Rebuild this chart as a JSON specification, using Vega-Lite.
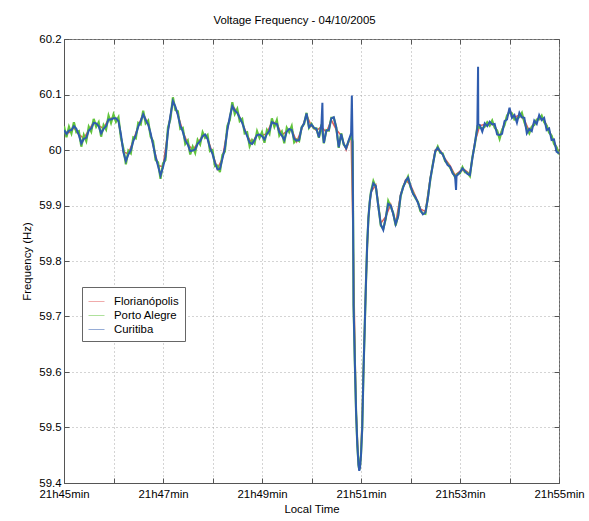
{
"$schema": "https://vega.github.io/schema/vega-lite/v6.json",
"width": 495, "height": 444,
"autosize": {"type": "none"},
"padding": {"left": 64, "top": 39, "right": 30, "bottom": 38},
"background": "white",
"config": {"font": "Liberation Sans", "view": {"stroke": "#666", "strokeWidth": 1}},
"title": {"text": "Voltage Frequency - 04/10/2005", "fontSize": 11.4, "fontWeight": "normal", "font": "Liberation Sans", "color": "#000", "offset": 7, "dx": -17},
"datasets": {
"flo": [{"t":0,"hz":60.033},{"t":0.1,"hz":60.031},{"t":0.2,"hz":60.04},{"t":0.3,"hz":60.028},{"t":0.4,"hz":60.021},{"t":0.5,"hz":60.036},{"t":0.6,"hz":60.05},{"t":0.7,"hz":60.044},{"t":0.8,"hz":60.039},{"t":0.9,"hz":60.056},{"t":1.0,"hz":60.058},{"t":1.1,"hz":60.053},{"t":1.2,"hz":59.997},{"t":1.3,"hz":59.993},{"t":1.4,"hz":60.017},{"t":1.5,"hz":60.043},{"t":1.6,"hz":60.065},{"t":1.7,"hz":60.047},{"t":1.8,"hz":60.01},{"t":1.9,"hz":59.972},{"t":2.0,"hz":59.97},{"t":2.1,"hz":60.034},{"t":2.2,"hz":60.089},{"t":2.3,"hz":60.064},{"t":2.4,"hz":60.034},{"t":2.5,"hz":60.011},{"t":2.6,"hz":60.0},{"t":2.7,"hz":60.012},{"t":2.8,"hz":60.026},{"t":2.9,"hz":60.021},{"t":3.0,"hz":59.994},{"t":3.1,"hz":59.966},{"t":3.2,"hz":59.985},{"t":3.3,"hz":60.037},{"t":3.4,"hz":60.08},{"t":3.5,"hz":60.068},{"t":3.6,"hz":60.05},{"t":3.7,"hz":60.026},{"t":3.8,"hz":60.012},{"t":3.9,"hz":60.028},{"t":4.0,"hz":60.026},{"t":4.1,"hz":60.03},{"t":4.2,"hz":60.051},{"t":4.3,"hz":60.048},{"t":4.4,"hz":60.027},{"t":4.5,"hz":60.034},{"t":4.6,"hz":60.037},{"t":4.7,"hz":60.015},{"t":4.8,"hz":60.037},{"t":4.9,"hz":60.063},{"t":5.0,"hz":60.043},{"t":5.1,"hz":60.035},{"t":5.2,"hz":60.042},{"t":5.3,"hz":60.032},{"t":5.4,"hz":60.054},{"t":5.5,"hz":60.037},{"t":5.6,"hz":60.026},{"t":5.7,"hz":60.0},{"t":5.8,"hz":60.027},{"t":5.845,"hz":59.816},{"t":5.9,"hz":59.532},{"t":5.95,"hz":59.434},{"t":5.965,"hz":59.424},{"t":6.0,"hz":59.452},{"t":6.05,"hz":59.602},{"t":6.1,"hz":59.762},{"t":6.15,"hz":59.879},{"t":6.2,"hz":59.924},{"t":6.3,"hz":59.937},{"t":6.4,"hz":59.868},{"t":6.5,"hz":59.88},{"t":6.6,"hz":59.902},{"t":6.7,"hz":59.868},{"t":6.8,"hz":59.92},{"t":6.9,"hz":59.946},{"t":7.0,"hz":59.937},{"t":7.1,"hz":59.917},{"t":7.2,"hz":59.894},{"t":7.3,"hz":59.889},{"t":7.4,"hz":59.95},{"t":7.5,"hz":60.0},{"t":7.6,"hz":59.999},{"t":7.7,"hz":59.984},{"t":7.8,"hz":59.972},{"t":7.9,"hz":59.955},{"t":8.0,"hz":59.962},{"t":8.1,"hz":59.964},{"t":8.2,"hz":59.957},{"t":8.3,"hz":60.014},{"t":8.4,"hz":60.044},{"t":8.5,"hz":60.046},{"t":8.6,"hz":60.048},{"t":8.7,"hz":60.044},{"t":8.8,"hz":60.024},{"t":8.9,"hz":60.049},{"t":9.0,"hz":60.072},{"t":9.1,"hz":60.059},{"t":9.2,"hz":60.063},{"t":9.3,"hz":60.054},{"t":9.4,"hz":60.034},{"t":9.5,"hz":60.049},{"t":9.6,"hz":60.059},{"t":9.7,"hz":60.054},{"t":9.8,"hz":60.035},{"t":9.9,"hz":60.015},{"t":10.0,"hz":59.996}],
"poa": [{"t":0,"hz":60.043},{"t":0.05,"hz":60.023},{"t":0.1,"hz":60.042},{"t":0.15,"hz":60.03},{"t":0.2,"hz":60.05},{"t":0.25,"hz":60.032},{"t":0.3,"hz":60.034},{"t":0.35,"hz":60.006},{"t":0.4,"hz":60.027},{"t":0.45,"hz":60.016},{"t":0.5,"hz":60.042},{"t":0.55,"hz":60.033},{"t":0.6,"hz":60.056},{"t":0.65,"hz":60.042},{"t":0.7,"hz":60.05},{"t":0.75,"hz":60.024},{"t":0.8,"hz":60.045},{"t":0.85,"hz":60.037},{"t":0.9,"hz":60.062},{"t":0.95,"hz":60.049},{"t":1.0,"hz":60.064},{"t":1.05,"hz":60.051},{"t":1.1,"hz":60.059},{"t":1.15,"hz":60.022},{"t":1.2,"hz":60.003},{"t":1.25,"hz":59.974},{"t":1.3,"hz":59.999},{"t":1.35,"hz":59.994},{"t":1.4,"hz":60.023},{"t":1.45,"hz":60.021},{"t":1.5,"hz":60.049},{"t":1.55,"hz":60.046},{"t":1.6,"hz":60.071},{"t":1.65,"hz":60.048},{"t":1.7,"hz":60.053},{"t":1.75,"hz":60.024},{"t":1.8,"hz":60.016},{"t":1.85,"hz":59.982},{"t":1.9,"hz":59.978},{"t":1.95,"hz":59.948},{"t":2.0,"hz":59.976},{"t":2.05,"hz":59.982},{"t":2.1,"hz":60.04},{"t":2.15,"hz":60.056},{"t":2.2,"hz":60.095},{"t":2.25,"hz":60.072},{"t":2.3,"hz":60.07},{"t":2.35,"hz":60.038},{"t":2.4,"hz":60.04},{"t":2.45,"hz":60.011},{"t":2.5,"hz":60.017},{"t":2.55,"hz":59.992},{"t":2.6,"hz":60.006},{"t":2.65,"hz":59.995},{"t":2.7,"hz":60.018},{"t":2.75,"hz":60.01},{"t":2.8,"hz":60.032},{"t":2.85,"hz":60.022},{"t":2.9,"hz":60.027},{"t":2.95,"hz":59.998},{"t":3.0,"hz":60.0},{"t":3.05,"hz":59.971},{"t":3.1,"hz":59.972},{"t":3.15,"hz":59.96},{"t":3.2,"hz":59.991},{"t":3.25,"hz":59.997},{"t":3.3,"hz":60.043},{"t":3.35,"hz":60.054},{"t":3.4,"hz":60.086},{"t":3.45,"hz":60.065},{"t":3.5,"hz":60.074},{"t":3.55,"hz":60.052},{"t":3.6,"hz":60.056},{"t":3.65,"hz":60.03},{"t":3.7,"hz":60.032},{"t":3.75,"hz":60.007},{"t":3.8,"hz":60.018},{"t":3.85,"hz":60.012},{"t":3.9,"hz":60.034},{"t":3.95,"hz":60.022},{"t":4.0,"hz":60.032},{"t":4.05,"hz":60.013},{"t":4.1,"hz":60.036},{"t":4.15,"hz":60.029},{"t":4.2,"hz":60.057},{"t":4.25,"hz":60.042},{"t":4.3,"hz":60.054},{"t":4.35,"hz":60.026},{"t":4.4,"hz":60.033},{"t":4.45,"hz":60.012},{"t":4.5,"hz":60.04},{"t":4.55,"hz":60.032},{"t":4.6,"hz":60.043},{"t":4.65,"hz":60.014},{"t":4.7,"hz":60.019},{"t":4.75,"hz":60.016},{"t":4.8,"hz":60.041},{"t":4.85,"hz":60.047},{"t":4.9,"hz":60.067},{"t":4.95,"hz":60.04},{"t":5.0,"hz":60.047},{"t":5.05,"hz":60.039},{"t":5.1,"hz":60.039},{"t":5.15,"hz":60.022},{"t":5.2,"hz":60.046},{"t":5.25,"hz":60.012},{"t":5.3,"hz":60.036},{"t":5.35,"hz":60.035},{"t":5.4,"hz":60.058},{"t":5.45,"hz":60.058},{"t":5.5,"hz":60.041},{"t":5.55,"hz":60.004},{"t":5.6,"hz":60.03},{"t":5.65,"hz":60.01},{"t":5.7,"hz":60.004},{"t":5.75,"hz":60.016},{"t":5.8,"hz":60.025},{"t":5.83,"hz":60.015},{"t":5.845,"hz":59.814},{"t":5.85,"hz":59.72},{"t":5.875,"hz":59.62},{"t":5.9,"hz":59.53},{"t":5.925,"hz":59.47},{"t":5.95,"hz":59.432},{"t":5.965,"hz":59.424},{"t":5.98,"hz":59.43},{"t":6.0,"hz":59.452},{"t":6.025,"hz":59.5},{"t":6.05,"hz":59.6},{"t":6.075,"hz":59.68},{"t":6.1,"hz":59.76},{"t":6.125,"hz":59.83},{"t":6.15,"hz":59.877},{"t":6.175,"hz":59.905},{"t":6.2,"hz":59.924},{"t":6.25,"hz":59.944},{"t":6.3,"hz":59.933},{"t":6.35,"hz":59.9},{"t":6.4,"hz":59.864},{"t":6.45,"hz":59.858},{"t":6.5,"hz":59.876},{"t":6.55,"hz":59.908},{"t":6.6,"hz":59.898},{"t":6.65,"hz":59.887},{"t":6.7,"hz":59.864},{"t":6.75,"hz":59.882},{"t":6.8,"hz":59.916},{"t":6.85,"hz":59.934},{"t":6.9,"hz":59.942},{"t":6.95,"hz":59.952},{"t":7.0,"hz":59.933},{"t":7.05,"hz":59.923},{"t":7.1,"hz":59.913},{"t":7.15,"hz":59.907},{"t":7.2,"hz":59.89},{"t":7.25,"hz":59.886},{"t":7.3,"hz":59.885},{"t":7.35,"hz":59.914},{"t":7.4,"hz":59.946},{"t":7.45,"hz":59.974},{"t":7.5,"hz":59.996},{"t":7.55,"hz":60.006},{"t":7.6,"hz":59.995},{"t":7.65,"hz":59.994},{"t":7.7,"hz":59.98},{"t":7.75,"hz":59.975},{"t":7.8,"hz":59.968},{"t":7.85,"hz":59.96},{"t":7.9,"hz":59.951},{"t":7.95,"hz":59.957},{"t":8.0,"hz":59.958},{"t":8.05,"hz":59.969},{"t":8.1,"hz":59.96},{"t":8.15,"hz":59.959},{"t":8.2,"hz":59.953},{"t":8.25,"hz":59.987},{"t":8.3,"hz":60.01},{"t":8.35,"hz":60.042},{"t":8.4,"hz":60.04},{"t":8.45,"hz":60.039},{"t":8.5,"hz":60.042},{"t":8.55,"hz":60.05},{"t":8.6,"hz":60.044},{"t":8.65,"hz":60.053},{"t":8.7,"hz":60.04},{"t":8.75,"hz":60.035},{"t":8.8,"hz":60.02},{"t":8.85,"hz":60.036},{"t":8.9,"hz":60.045},{"t":8.95,"hz":60.062},{"t":9.0,"hz":60.068},{"t":9.05,"hz":60.066},{"t":9.1,"hz":60.055},{"t":9.15,"hz":60.057},{"t":9.2,"hz":60.059},{"t":9.25,"hz":60.067},{"t":9.3,"hz":60.05},{"t":9.35,"hz":60.038},{"t":9.4,"hz":60.03},{"t":9.45,"hz":60.042},{"t":9.5,"hz":60.045},{"t":9.55,"hz":60.055},{"t":9.6,"hz":60.055},{"t":9.65,"hz":60.062},{"t":9.7,"hz":60.05},{"t":9.75,"hz":60.044},{"t":9.8,"hz":60.031},{"t":9.85,"hz":60.026},{"t":9.9,"hz":60.011},{"t":9.95,"hz":60.005},{"t":10.0,"hz":59.992}],
"cur": [{"t":0,"hz":60.036},{"t":0.05,"hz":60.029},{"t":0.1,"hz":60.035},{"t":0.15,"hz":60.036},{"t":0.2,"hz":60.043},{"t":0.25,"hz":60.038},{"t":0.3,"hz":60.027},{"t":0.35,"hz":60.012},{"t":0.4,"hz":60.02},{"t":0.45,"hz":60.022},{"t":0.5,"hz":60.035},{"t":0.55,"hz":60.039},{"t":0.6,"hz":60.049},{"t":0.65,"hz":60.048},{"t":0.7,"hz":60.043},{"t":0.75,"hz":60.03},{"t":0.8,"hz":60.038},{"t":0.85,"hz":60.043},{"t":0.9,"hz":60.055},{"t":0.95,"hz":60.055},{"t":1.0,"hz":60.057},{"t":1.05,"hz":60.057},{"t":1.1,"hz":60.052},{"t":1.15,"hz":60.028},{"t":1.2,"hz":59.996},{"t":1.25,"hz":59.98},{"t":1.3,"hz":59.992},{"t":1.35,"hz":60.0},{"t":1.4,"hz":60.016},{"t":1.45,"hz":60.027},{"t":1.5,"hz":60.042},{"t":1.55,"hz":60.052},{"t":1.6,"hz":60.064},{"t":1.65,"hz":60.054},{"t":1.7,"hz":60.046},{"t":1.75,"hz":60.03},{"t":1.8,"hz":60.009},{"t":1.85,"hz":59.988},{"t":1.9,"hz":59.971},{"t":1.95,"hz":59.954},{"t":2.0,"hz":59.969},{"t":2.05,"hz":59.988},{"t":2.1,"hz":60.033},{"t":2.15,"hz":60.062},{"t":2.2,"hz":60.088},{"t":2.25,"hz":60.078},{"t":2.3,"hz":60.063},{"t":2.35,"hz":60.044},{"t":2.4,"hz":60.033},{"t":2.45,"hz":60.017},{"t":2.5,"hz":60.01},{"t":2.55,"hz":59.998},{"t":2.6,"hz":59.999},{"t":2.65,"hz":60.001},{"t":2.7,"hz":60.011},{"t":2.75,"hz":60.016},{"t":2.8,"hz":60.025},{"t":2.85,"hz":60.028},{"t":2.9,"hz":60.02},{"t":2.95,"hz":60.004},{"t":3.0,"hz":59.993},{"t":3.05,"hz":59.977},{"t":3.1,"hz":59.965},{"t":3.15,"hz":59.966},{"t":3.2,"hz":59.984},{"t":3.25,"hz":60.003},{"t":3.3,"hz":60.036},{"t":3.35,"hz":60.06},{"t":3.4,"hz":60.079},{"t":3.45,"hz":60.071},{"t":3.5,"hz":60.067},{"t":3.55,"hz":60.058},{"t":3.6,"hz":60.049},{"t":3.65,"hz":60.036},{"t":3.7,"hz":60.025},{"t":3.75,"hz":60.013},{"t":3.8,"hz":60.011},{"t":3.85,"hz":60.018},{"t":3.9,"hz":60.027},{"t":3.95,"hz":60.028},{"t":4.0,"hz":60.025},{"t":4.05,"hz":60.019},{"t":4.1,"hz":60.029},{"t":4.15,"hz":60.035},{"t":4.2,"hz":60.05},{"t":4.25,"hz":60.048},{"t":4.3,"hz":60.047},{"t":4.35,"hz":60.032},{"t":4.4,"hz":60.026},{"t":4.45,"hz":60.018},{"t":4.5,"hz":60.033},{"t":4.55,"hz":60.038},{"t":4.6,"hz":60.036},{"t":4.65,"hz":60.02},{"t":4.7,"hz":60.017},{"t":4.75,"hz":60.018},{"t":4.8,"hz":60.04},{"t":4.85,"hz":60.048},{"t":4.9,"hz":60.066},{"t":4.95,"hz":60.041},{"t":5.0,"hz":60.046},{"t":5.05,"hz":60.04},{"t":5.1,"hz":60.038},{"t":5.15,"hz":60.023},{"t":5.2,"hz":60.045},{"t":5.22,"hz":60.085},{"t":5.23,"hz":60.03},{"t":5.25,"hz":60.013},{"t":5.3,"hz":60.035},{"t":5.35,"hz":60.036},{"t":5.4,"hz":60.057},{"t":5.45,"hz":60.059},{"t":5.5,"hz":60.04},{"t":5.55,"hz":60.005},{"t":5.6,"hz":60.029},{"t":5.65,"hz":60.011},{"t":5.7,"hz":60.003},{"t":5.75,"hz":60.017},{"t":5.8,"hz":60.03},{"t":5.815,"hz":60.098},{"t":5.83,"hz":60.012},{"t":5.845,"hz":59.814},{"t":5.85,"hz":59.72},{"t":5.875,"hz":59.62},{"t":5.9,"hz":59.53},{"t":5.925,"hz":59.47},{"t":5.95,"hz":59.432},{"t":5.965,"hz":59.422},{"t":5.98,"hz":59.428},{"t":6.0,"hz":59.45},{"t":6.025,"hz":59.5},{"t":6.05,"hz":59.6},{"t":6.075,"hz":59.68},{"t":6.1,"hz":59.76},{"t":6.125,"hz":59.83},{"t":6.15,"hz":59.877},{"t":6.175,"hz":59.905},{"t":6.2,"hz":59.922},{"t":6.25,"hz":59.94},{"t":6.3,"hz":59.935},{"t":6.35,"hz":59.898},{"t":6.4,"hz":59.866},{"t":6.45,"hz":59.856},{"t":6.5,"hz":59.878},{"t":6.55,"hz":59.903},{"t":6.6,"hz":59.9},{"t":6.65,"hz":59.885},{"t":6.7,"hz":59.866},{"t":6.75,"hz":59.88},{"t":6.8,"hz":59.918},{"t":6.85,"hz":59.932},{"t":6.9,"hz":59.944},{"t":6.95,"hz":59.95},{"t":7.0,"hz":59.935},{"t":7.05,"hz":59.921},{"t":7.1,"hz":59.915},{"t":7.15,"hz":59.905},{"t":7.2,"hz":59.892},{"t":7.25,"hz":59.884},{"t":7.3,"hz":59.887},{"t":7.35,"hz":59.912},{"t":7.4,"hz":59.948},{"t":7.45,"hz":59.972},{"t":7.5,"hz":59.998},{"t":7.55,"hz":60.004},{"t":7.6,"hz":59.997},{"t":7.65,"hz":59.992},{"t":7.7,"hz":59.982},{"t":7.75,"hz":59.973},{"t":7.8,"hz":59.97},{"t":7.85,"hz":59.958},{"t":7.9,"hz":59.953},{"t":7.92,"hz":59.928},{"t":7.93,"hz":59.953},{"t":7.95,"hz":59.955},{"t":8.0,"hz":59.96},{"t":8.05,"hz":59.967},{"t":8.1,"hz":59.962},{"t":8.15,"hz":59.957},{"t":8.2,"hz":59.955},{"t":8.25,"hz":59.985},{"t":8.3,"hz":60.012},{"t":8.35,"hz":60.04},{"t":8.365,"hz":60.15},{"t":8.37,"hz":60.046},{"t":8.4,"hz":60.045},{"t":8.45,"hz":60.033},{"t":8.5,"hz":60.048},{"t":8.55,"hz":60.043},{"t":8.6,"hz":60.051},{"t":8.65,"hz":60.046},{"t":8.7,"hz":60.047},{"t":8.75,"hz":60.028},{"t":8.8,"hz":60.027},{"t":8.85,"hz":60.029},{"t":8.9,"hz":60.052},{"t":8.95,"hz":60.055},{"t":9.0,"hz":60.076},{"t":9.05,"hz":60.058},{"t":9.1,"hz":60.063},{"t":9.15,"hz":60.049},{"t":9.2,"hz":60.067},{"t":9.25,"hz":60.059},{"t":9.3,"hz":60.058},{"t":9.35,"hz":60.03},{"t":9.4,"hz":60.038},{"t":9.45,"hz":60.034},{"t":9.5,"hz":60.053},{"t":9.55,"hz":60.047},{"t":9.6,"hz":60.063},{"t":9.65,"hz":60.054},{"t":9.7,"hz":60.058},{"t":9.75,"hz":60.036},{"t":9.8,"hz":60.039},{"t":9.85,"hz":60.018},{"t":9.9,"hz":60.019},{"t":9.95,"hz":59.997},{"t":10.0,"hz":59.994}]
},
"resolve": {"axis": {"x": "independent", "y": "independent"}},
"layer": [
{"data": {"name": "flo"},
 "mark": {"type": "line", "strokeWidth": 1.5, "clip": true},
 "encoding": {
  "x": {"field": "t", "type": "quantitative", "scale": {"domain": [0, 10], "nice": false},
   "axis": {"values": [0,1,2,3,4,5,6,7,8,9,10], "labelExpr": "datum.value % 2 == 0 ? '21h' + (45 + datum.value) + 'min' : ''", "title": "Local Time", "grid": true, "gridDash": [1, 3], "gridColor": "#a8a8a8", "tickSize": -5, "tickColor": "#555", "labelPadding": 10, "labelFontSize": 11.4, "labelColor": "#000", "labelFlush": false, "labelOverlap": false, "titleFontSize": 11.4, "titleFontWeight": "normal", "titleColor": "#000", "titlePadding": 4, "domainColor": "#555"}},
  "y": {"field": "hz", "type": "quantitative", "scale": {"domain": [59.4, 60.2], "nice": false, "zero": false},
   "axis": {"values": [59.4,59.5,59.6,59.7,59.8,59.9,60,60.1,60.2], "format": "~g", "title": "Frequency (Hz)", "grid": true, "gridDash": [1, 3], "gridColor": "#a8a8a8", "tickSize": -5, "tickColor": "#555", "labelPadding": 8, "labelFontSize": 11.4, "labelColor": "#000", "labelFlush": false, "labelOverlap": false, "titleFontSize": 11.4, "titleFontWeight": "normal", "titleColor": "#000", "titlePadding": 6, "domainColor": "#555"}},
  "color": {"datum": "Florianópolis", "type": "nominal",
   "scale": {"domain": ["Florianópolis", "Porto Alegre", "Curitiba"], "range": ["#e35a5a", "#62c43c", "#2f5cae"]},
   "legend": {"title": null, "orient": "none", "legendX": 18, "legendY": 248, "fillColor": "white", "strokeColor": "#666", "padding": 6, "symbolType": "stroke", "symbolSize": 256, "symbolStrokeWidth": 1, "symbolOpacity": 0.5, "labelFontSize": 11.4, "labelColor": "#000", "labelOffset": 9, "rowPadding": 0}}
 }},
{"data": {"name": "poa"},
 "mark": {"type": "line", "strokeWidth": 2.2, "clip": true},
 "encoding": {
  "x": {"field": "t", "type": "quantitative", "axis": {"orient": "top", "values": [0,1,2,3,4,5,6,7,8,9,10], "labels": false, "grid": false, "domain": false, "title": null, "tickSize": -5, "tickColor": "#555"}},
  "y": {"field": "hz", "type": "quantitative", "axis": {"orient": "right", "values": [59.4,59.5,59.6,59.7,59.8,59.9,60,60.1,60.2], "labels": false, "grid": false, "domain": false, "title": null, "tickSize": -5, "tickColor": "#555"}},
  "color": {"datum": "Porto Alegre", "type": "nominal"}
 }},
{"data": {"name": "cur"},
 "mark": {"type": "line", "strokeWidth": 2, "clip": true},
 "encoding": {
  "x": {"field": "t", "type": "quantitative", "axis": null},
  "y": {"field": "hz", "type": "quantitative", "axis": null},
  "color": {"datum": "Curitiba", "type": "nominal"}
 }}
]
}
